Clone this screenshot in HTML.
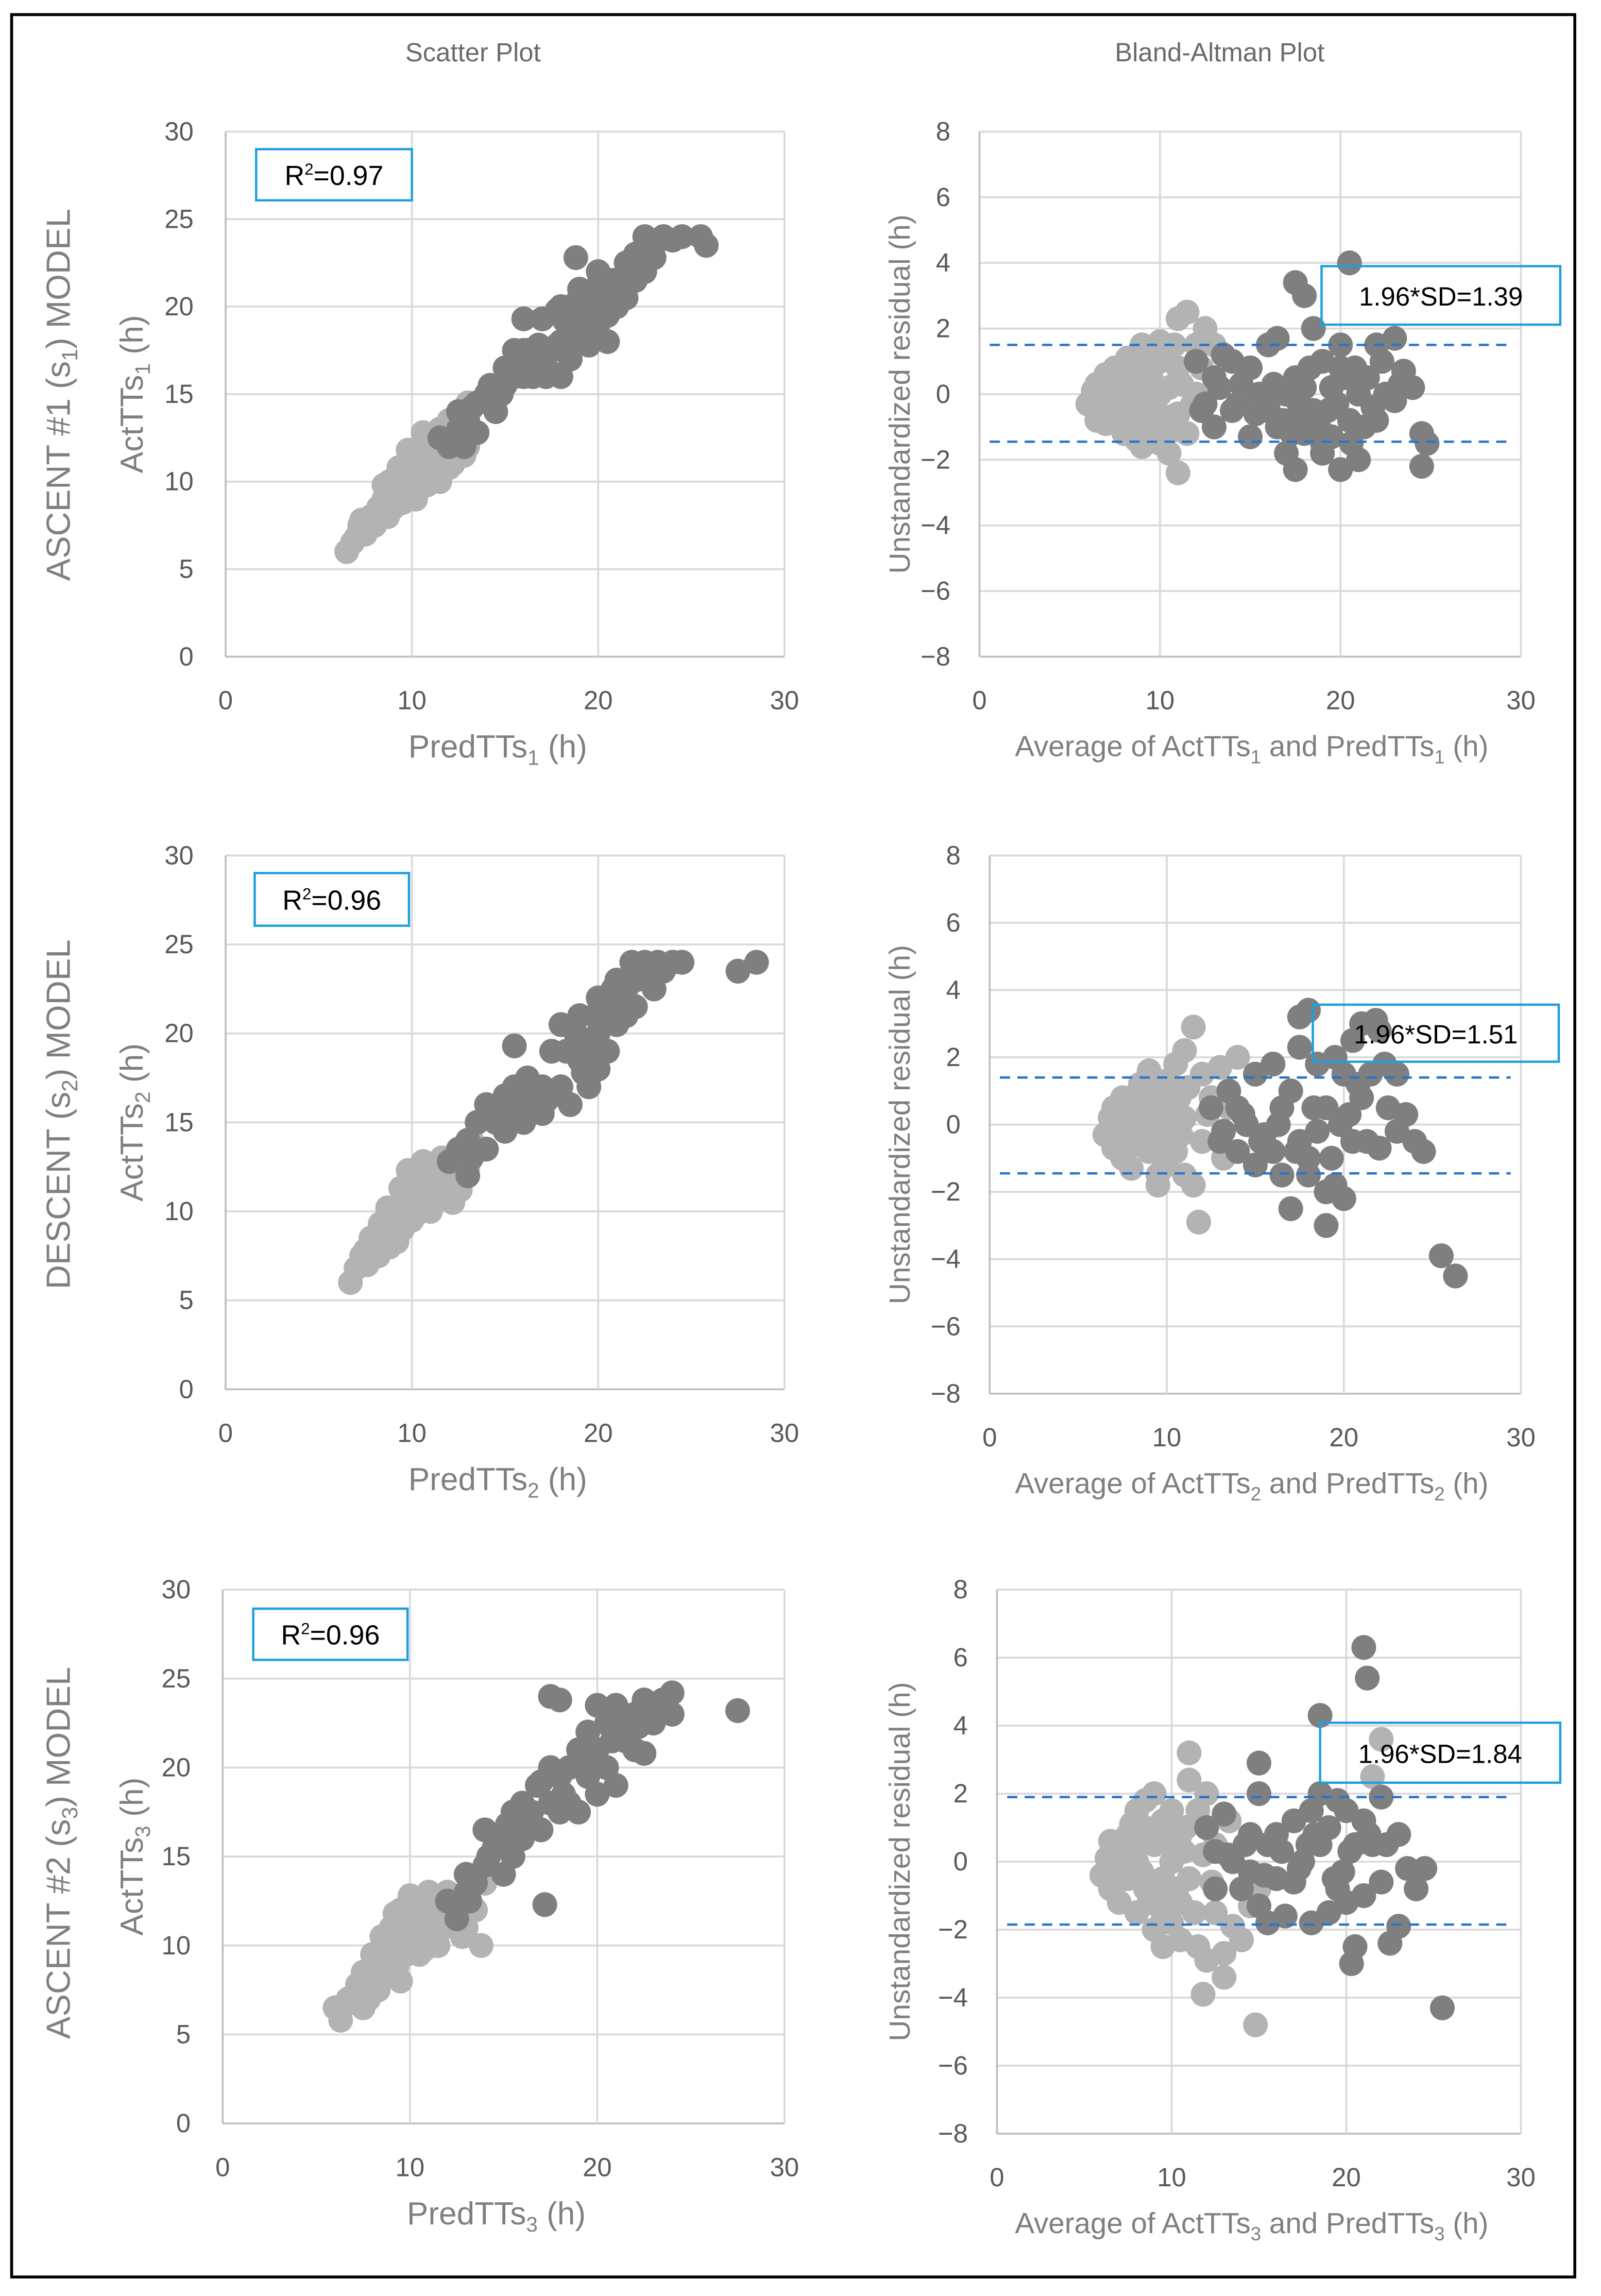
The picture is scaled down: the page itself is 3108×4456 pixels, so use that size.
<!DOCTYPE html>
<html><head><meta charset="utf-8"><style>
html,body{margin:0;padding:0;background:#fff;}
svg{display:block;}
text{font-family:"Liberation Sans",sans-serif;}
</style></head><body>
<svg id="fig" width="3108" height="4456" viewBox="0 0 1100 1570" preserveAspectRatio="none" xmlns="http://www.w3.org/2000/svg">
<rect x="8" y="10" width="1074" height="1547" fill="#fff" stroke="#000" stroke-width="2"/>
<text x="325" y="42" font-size="18" fill="#6b6b6b" text-anchor="middle">Scatter Plot</text>
<text x="838" y="42" font-size="18" fill="#6b6b6b" text-anchor="middle">Bland-Altman Plot</text>
<g id="plots"></g>
</svg>
<script>
// ---------- data ----------
var s1LightX=[6.5,6.8,7.2,7.5,7.8,8,8.2,8.5,8.7,9,9,9.2,9.5,9.5,9.8,10,10,10.2,10.5,10.5,10.8,11,11,11.2,11.5,11.5,11.8,12,12,12.2,12.5,12.5,13,13,8.5,9.5,10.5,11.5,12.8,7,7.3,8.8,9.3,10.3,10.8,11.3,11.8,12.3,9.8,10.6,11.2,12];
var s1LightY=[6,6.5,7.5,7,8,7.5,8.5,9,8,9.5,8.5,10,9,10.5,9.5,10,11,9,10.5,12,11,10,12.5,11,11.5,13,12,12,13.5,11,13,14,14.5,12,9.8,8.8,9.8,10,11.5,6.8,7.8,10,10.8,11.5,9.8,12,13,12.5,11.8,12.8,10.5,10.8];
var s1DarkX=[11.5,12,12.5,12.5,13,13.5,13.5,14,14.5,15,15,15.5,15.5,16,16,16.5,16.5,17,17,17.5,17.5,18,18,18,18.5,18.5,19,19,19,19.5,19.5,20,20,20,20.5,20.5,21,21,21.5,22,22,22.5,23,23.5,24,25.5,25.8,18.8,16,17,21.5,22.5,12.8,13.2,14.2,14.8,15.2,16.2,16.8,17.2,17.8,18.2,18.8,19.2,19.8,20.2,20.8,21.2,22.2,23,24.5,15.8,17.8];
var s1DarkY=[12.5,12,13,14,13.5,14.5,12.8,15,14,15.5,16.5,16,17.5,16,19.3,17,16,17,16.5,17.5,16.2,18,16,20,18.5,17,19,21,18,20,17.8,20.5,19,22,19.5,18,21,20,22.5,21.5,23,24,23.5,24,23.8,24,23.5,22.8,17.5,19.3,20.5,22,12,14.2,15.5,15,16.5,17.5,17.8,16,17.8,19.2,20.2,18.8,21,20.5,21.5,20.5,22,22.8,24,16.8,19.8];

var s2LightX=[6.7,7,7.3,7.6,8,8.2,8.5,8.8,9,9,9.3,9.5,9.7,10,10,10.3,10.5,10.5,10.8,11,11,11.3,11.5,11.7,12,12,12.3,12.5,13,13.2,8.3,9.2,10.2,11.2,7.5,9.8,12.6,13.8,8.7,9.4,10.6,11.6,12.2,7.8,10.9,11.9];
var s2LightY=[6,6.8,7.5,7,8,7.5,8.8,8,9.5,8.5,10,9,10.5,9.5,11,10,12,10.5,11,10,12.5,11.5,12,11,13,12,11,13.5,12.5,14,9.3,8.3,9.8,10.5,7.8,12.3,11.2,13.5,10.2,11.3,12.8,13,10.5,8.5,11.8,12.2];
var s2DarkX=[12,12.5,13,13,13.5,14,14,14.5,15,15,15.5,15.5,16,16,16.5,16.5,17,17,17.5,18,18,18.5,18.5,19,19,19.5,19.5,20,20,20,20.5,20.5,21,21,21.5,22,22,22.5,23,23.5,24,24.5,27.5,28.5,15.5,17.5,19.5,21.5,16.8,18.3,13.2,14.8,15.8,16.2,17.2,18.8,19.2,20.2,20.8,21.2,22.8,23.2,19.8,21.8];
var s2DarkY=[12.8,13.5,12,14,15,13.5,16,15,14.5,16.5,15.5,17,16,15,17,16,17,15.5,19,17,20.5,19,16,18.5,21,19.5,17.5,20,22,18,21.5,19,23,20.5,22.5,23,21.5,24,22.5,23.5,24,24,23.5,24,19.3,16.5,17,21,16.8,19,13,15.8,16.2,17.5,16.2,20,17.8,19,22.5,22,23.5,24,21,24];

var s3LightX=[6,6.3,6.7,7,7.3,7.5,7.8,8,8,8.3,8.5,8.5,8.8,9,9,9.3,9.5,9.5,9.8,10,10,10.3,10.5,10.5,10.8,11,11,11.3,11.5,11.5,12,12,12.5,13,13,13.5,13.8,14,7.5,9.5,10.8,12.8,8.7,9.2,10.2,11.2,11.8,12.3,7.2,8.2,9.8,10.7];
var s3LightY=[6.5,5.8,7,6.8,7.5,8.5,7,8,9.5,7.5,9,10.5,8.5,9.5,11,8.8,10,12,9.5,11,12.8,10,11.5,9.5,12,10.5,13,11,12,10,11.5,13,12.5,11,12.8,12,10,13.5,6.5,8,9.8,10.5,10,11.8,11.8,12.5,11,12.2,7.8,8.8,10.5,11];
var s3DarkX=[12,12.5,13,13,13.5,14,14,14.5,15,15,15.5,15.5,16,16,16.5,17,17,17.5,17.5,18,18,18.5,18.5,19,19,19.5,19.5,20,20,20,20.5,20.5,21,21,21.5,22,22,22.5,23,23.5,24,24,27.5,17.2,17.5,18,21,22.5,13.2,14.2,15.2,16.2,16.8,18.2,19.2,19.8,20.8,21.2,22.2,23.2];
var s3DarkY=[12.5,11.5,13,14,13.5,16.5,14.5,15.5,14,16,15,17.5,16,18,17.5,19.2,16.5,18,20,17.5,19.5,20,18,21,17.5,19.5,22,18.5,21,23.5,20,22.5,23.5,19,21.5,23,21,23.8,22.5,23.8,24.2,23,23.2,12.3,24,23.8,22.3,20.8,12.5,15,16.8,16.5,19,18.5,20,20.5,21.5,22,22.3,23.5];

var b1LightX=[6,6.5,6.5,7,7,7.5,7.5,7.5,8,8,8,8.5,8.5,8.5,9,9,9,9,9.5,9.5,9.5,10,10,10,10.5,10.5,10.5,11,11,11,11.5,11.5,12,12,12.5,13,7,9,10,11,8,9.5,6.3,6.8,7.2,7.8,8.2,8.8,9.2,9.8,10.2,10.8,11.2,11.8,8.3,9.7,10.7,12.3,7.3,8.7];
var b1LightY=[-0.3,0.3,-0.8,0,-0.9,0.8,-0.4,0.3,0.5,-0.6,-1.2,1,0,-0.5,1.5,0.3,-1,-1.6,0.5,-0.4,-1.3,1,0,-1.5,0.2,-0.7,-1.8,2.3,0.8,-0.6,2.5,-1.2,1.5,0,2,1.5,0.6,-0.2,1.6,-2.4,0.2,-0.8,0.1,-0.3,0.5,-0.2,1.1,0.8,-0.5,1.2,-0.9,1.5,0.3,-0.3,-1,0.9,-1.1,0.8,-0.6,-1.4];
var b1DarkX=[12,12.5,13,13,13.5,14,14,14.5,15,15,15.5,16,16,16.5,16.5,17,17,17.5,17.5,17.5,18,18,18.5,18.5,19,19,19.5,19.5,20,20,20,20.5,20.5,21,21,21.5,22,22,22.5,23,23,23.5,24,24.5,24.5,24.8,17.5,17.7,20.6,18,12.3,13.3,14.3,15.3,16.3,16.8,17.3,18.3,18.8,19.3,19.8,20.3,20.8,21.3,21.8,22.3,23.3,16,19,21];
var b1DarkY=[1,-0.3,-1,0.5,1.2,-0.5,1,0.3,-1.3,0.8,0,1.5,-0.5,1.7,-1,0,-1.8,-2.3,0.5,3.4,-1.2,3,2,-0.5,-1.8,1,0.2,-1.3,-2.3,0.8,1.5,4,-0.8,-2,0.3,0.5,1.5,-0.8,0,1.7,-0.2,0.7,0.2,-1.2,-2.2,-1.5,-0.8,-0.3,-1.5,0.2,-0.5,0.2,-0.3,-0.6,0.3,-0.8,-1.2,0.8,-1,-0.5,-0.3,0.5,0.8,-1,-0.4,1,0.3,-0.3,-1.5,0];

var b2LightX=[6.5,7,7,7.5,7.5,8,8,8,8.5,8.5,9,9,9,9.5,9.5,9.5,10,10,10,10.5,10.5,11,11,11,11.5,11.5,12,12,12.5,13,13.5,14,8.5,9.5,10.5,11.8,7.5,6.8,7.2,7.8,8.2,8.8,9.2,9.8,10.2,10.8,11.2,8.3,9.7,10.7,12.3,13.2];
var b2LightY=[-0.3,0.5,-0.7,0.2,-1,0.8,-0.3,-1.3,1.2,0,1.6,0.3,-0.8,0.8,-0.4,-1.5,1.3,0,-1.2,0.5,-0.8,2.2,0.2,-1.5,2.9,-1.8,1.5,-0.5,0.8,1.7,0.5,2,-0.2,-1.8,1.8,-2.9,0.8,0.2,-0.4,0.5,-0.6,1,0,-1,0.6,-0.3,1.1,0.4,-0.6,0.8,0.3,-1];
var b2DarkX=[12.5,13,13.5,14,14,14.5,15,15,15.5,16,16,16.5,16.5,17,17,17.5,17.5,18,18,18.5,18.5,19,19,19.5,19.5,20,20,20.5,20.5,21,21,21.5,22,22,22.5,23,23,23.5,24,24.5,25.5,26.3,17.5,18,19,21.8,13.2,14.3,15.3,16.3,17.3,18.3,19.3,20.3,21.3,22.3,20.8,19.8];
var b2DarkY=[0.5,-0.5,1,-0.8,0.5,0,-1.2,1.5,-0.3,1.8,-0.8,0.5,-1.5,1,-2.5,2.3,-0.5,3.4,-1.5,1.8,-0.2,-3,0.5,2,-1.8,-2.2,1.5,-0.5,2.5,3,0.8,1.5,2.8,-0.7,0.5,1.5,-0.2,0.3,-0.5,-0.8,-3.9,-4.5,3.2,-1,-2,3.1,-0.2,0.3,-0.5,0,-0.8,0.5,-1,0.3,-0.5,1.8,1.2,0];

var b3LightX=[6,6.5,6.5,7,7,7.5,7.5,8,8,8,8.5,8.5,9,9,9,9.5,9.5,9.5,10,10,10,10.5,10.5,11,11,11,11.5,11.5,12,12,12.5,12.5,13,13.5,14,14.5,15,11.8,13,14.8,9.5,10.5,8.5,22,21.5,6.3,6.8,7.3,7.8,8.3,8.8,9.3,9.8,10.3,10.8,11.3,11.8,12.3,13.3,7.7,8.7,9.7,10.7];
var b3LightY=[-0.4,0.6,-0.8,0.3,-1.2,0.8,-0.5,1.5,0,-1.5,1.8,-0.8,2,0.5,-2,1.2,-0.5,-2.5,1.5,0,-1.8,0.8,-1.2,3.2,2.4,-0.5,1.5,-2.5,2,-2.9,0.5,-1.5,-2.7,-1.9,-2.3,-1.3,-0.8,-3.9,-3.4,-4.8,-1.5,-2.3,1,3.6,2.5,0.1,-0.2,-0.5,0.4,-0.3,0.9,-1,0.6,-0.8,1,-1.5,0.2,-0.6,1.2,1.1,-1.2,-1.2,0.3];
var b3DarkX=[12,12.5,12.5,13,13.5,14,14.5,14.5,15,15,15.5,15.5,16,16,16.5,17,17,17.5,18,18,18.5,18.5,19,19,19.5,19.5,20,20,20.5,20.5,21,21,21.5,22,22,22.5,23,23,23.5,24,24.5,25.5,21,21.2,18.5,20.3,15,13.2,14.2,15.3,16.3,17.3,18.2,19.3,20.2,21.3,22.3,17.8,19.8];
var b3DarkY=[1,0.3,-0.8,1.4,0,-0.8,0.8,-0.3,2,-1.3,0.5,-1.8,-0.5,0.8,-1.6,1.2,-0.6,0,1.5,-1.8,2,0.5,-1.5,1,1.8,-0.8,-1.2,1.5,-2.5,0.5,-1,1.2,0.5,1.9,-0.6,-2.4,0.8,-1.9,-0.2,-0.8,-0.2,-4.3,6.3,5.4,4.3,-3,2.9,0.2,0.5,-0.4,0.3,-0.2,0.8,-0.5,0.3,0.8,0.5,0.5,-0.3];

var scatterTicks=[0,5,10,15,20,25,30];
var xTicks=[0,10,20,30];
var baTicks=[8,6,4,2,0,-2,-4,-6,-8];
var r2Labels=["0.97","0.96","0.96"];
var sdLabels=["1.39","1.51","1.84"];
var sdUpper=[1.5,1.4,1.9];
var sdLower=[-1.45,-1.45,-1.85];
var rowTitles=[["ASCENT #1 (s","1",") MODEL"],["DESCENT (s","2",") MODEL"],["ASCENT #2 (s","3",") MODEL"]];
var subs=["1","2","3"];

// ---------- layout ----------
var NS="http://www.w3.org/2000/svg";
var root=document.getElementById('plots');
function el(tag,attrs,parent){var e=document.createElementNS(NS,tag);for(var k in attrs)e.setAttribute(k,attrs[k]);(parent||root).appendChild(e);return e;}

var rows=[
 {sc:{x0:155,x1:539,yt:90,yb:449},ba:{x0:673,x1:1045,yt:90,yb:449},r2:[176,102,107,35],sd:[908,182,164,40],rt:270},
 {sc:{x0:155,x1:539,yt:585,yb:950},ba:{x0:680,x1:1045,yt:585,yb:953},r2:[175,597,106,36],sd:[902,687,169,39],rt:762},
 {sc:{x0:153,x1:539,yt:1087,yb:1452},ba:{x0:685,x1:1045,yt:1087,yb:1459},r2:[174,1100,106,35],sd:[907,1178,165,41],rt:1267}
];
var scData=[[s1LightX,s1LightY,s1DarkX,s1DarkY],[s2LightX,s2LightY,s2DarkX,s2DarkY],[s3LightX,s3LightY,s3DarkX,s3DarkY]];
var baData=[[b1LightX,b1LightY,b1DarkX,b1DarkY],[b2LightX,b2LightY,b2DarkX,b2DarkY],[b3LightX,b3LightY,b3DarkX,b3DarkY]];
var R=8.5;

function subText(g,x,y,parts,attrs){
  var t=el('text',attrs,g);t.setAttribute('x',x);t.setAttribute('y',y);
  for(var i=0;i<parts.length;i++){var s=el('tspan',{},t);s.textContent=parts[i];
    if(i%2==1){s.setAttribute('font-size','0.65em');s.setAttribute('dy','5');}
    else if(i>0){s.setAttribute('dy','-5');}}
  return t;
}

rows.forEach(function(r,ri){
  var p=r.sc;
  var sx=function(v){return p.x0+(p.x1-p.x0)*v/30;};
  var sy=function(v){return p.yb-(p.yb-p.yt)*v/30;};
  var g=el('g',{});
  
  
  scatterTicks.forEach(function(t){
    var l=el('line',{x1:p.x0,x2:p.x1,y1:sy(t),y2:sy(t),stroke:t==0?'#bfbfbf':'#d9d9d9','stroke-width':1.3},g);
    
    var tx=el('text',{x:p.x0-22,y:sy(t)+6,'font-size':18,fill:'#595959','text-anchor':'end'},g);tx.textContent=t;
    
  });
  xTicks.forEach(function(t){
    var l=el('line',{x1:sx(t),x2:sx(t),y1:p.yt,y2:p.yb,stroke:t==0?'#bfbfbf':'#d9d9d9','stroke-width':1.3},g);
    
    var tx=el('text',{x:sx(t),y:p.yb+36,'font-size':18,fill:'#595959','text-anchor':'middle'},g);tx.textContent=t;
    
  });
  var d=scData[ri];
  [[d[0],d[1],'#b3b3b3'],[d[2],d[3],'#7f7f7f']].forEach(function(s,si){
    for(var i=0;i<s[0].length;i++){var c=el('circle',{cx:sx(s[0][i]),cy:sy(s[1][i]),r:R,fill:s[2]},g);
      
      }
  });
  var rb=el('rect',{x:r.r2[0],y:r.r2[1],width:r.r2[2],height:r.r2[3],fill:'none',stroke:'#1ea0dc','stroke-width':1.6},g);
  
  var rt=el('text',{x:r.r2[0]+r.r2[2]/2,y:r.r2[1]+r.r2[3]/2+7,'font-size':19,fill:'#000','text-anchor':'middle'},g);
  rt.innerHTML='R<tspan font-size="11" dy="-7">2</tspan><tspan dy="7">=</tspan>'+r2Labels[ri];
  
  var xt=subText(g,(p.x0+p.x1)/2-5,p.yb+69,['PredTTs',subs[ri],' (h)'],{'font-size':22,fill:'#7f7f7f','text-anchor':'middle'});
  
  var yt=subText(g,0,0,['ActTTs',subs[ri],' (h)'],{'font-size':22,fill:'#7f7f7f','text-anchor':'middle',transform:'translate(98,'+((p.yt+p.yb)/2)+') rotate(-90)'});
  
  var rw=subText(g,0,0,rowTitles[ri],{'font-size':23,fill:'#7f7f7f','text-anchor':'middle',transform:'translate(48,'+r.rt+') rotate(-90)'});
  

  var q=r.ba;
  var bx=function(v){return q.x0+(q.x1-q.x0)*v/30;};
  var by=function(v){return q.yb-(q.yb-q.yt)*(v+8)/16;};
  var h=el('g',{});
  
  
  baTicks.forEach(function(t){
    var l=el('line',{x1:q.x0,x2:q.x1,y1:by(t),y2:by(t),stroke:t==-8?'#bfbfbf':'#d9d9d9','stroke-width':1.3},h);
    
    var tx=el('text',{x:q.x0-20,y:by(t)+6,'font-size':18,fill:'#595959','text-anchor':'end'},h);tx.textContent=(t<0?'\u2212'+(-t):t);
    
  });
  xTicks.forEach(function(t){
    var l=el('line',{x1:bx(t),x2:bx(t),y1:q.yt,y2:q.yb,stroke:t==0?'#bfbfbf':'#d9d9d9','stroke-width':1.3},h);
    
    var tx=el('text',{x:bx(t),y:q.yb+36,'font-size':18,fill:'#595959','text-anchor':'middle'},h);tx.textContent=t;
    
  });
  var e=baData[ri];
  [[e[0],e[1],'#b3b3b3'],[e[2],e[3],'#7f7f7f']].forEach(function(s,si){
    for(var i=0;i<s[0].length;i++){var c=el('circle',{cx:bx(s[0][i]),cy:by(s[1][i]),r:R,fill:s[2]},h);
      
      }
  });
  [sdUpper[ri],sdLower[ri]].forEach(function(v,vi){
    var l=el('line',{x1:q.x0+7,x2:q.x1-7,y1:by(v),y2:by(v),stroke:'#2a74c9','stroke-width':1.6,'stroke-dasharray':'7,5'},h);
    
  });
  var sb=el('rect',{x:r.sd[0],y:r.sd[1],width:r.sd[2],height:r.sd[3],fill:'none',stroke:'#1ea0dc','stroke-width':1.6},h);
  
  var st=el('text',{x:r.sd[0]+r.sd[2]/2,y:r.sd[1]+r.sd[3]/2+7,'font-size':18,fill:'#000','text-anchor':'middle'},h);
  st.textContent='1.96*SD='+sdLabels[ri];
  
  var bxt=subText(h,860,q.yb+68,['Average of ActTTs',subs[ri],' and PredTTs',subs[ri],' (h)'],{'font-size':20,fill:'#7f7f7f','text-anchor':'middle'});
  
  var byt=el('text',{'font-size':20,fill:'#7f7f7f','text-anchor':'middle',transform:'translate(625,'+((q.yt+q.yb)/2)+') rotate(-90)'},h);
  byt.textContent='Unstandardized residual (h)';
  
});
</script>
</body></html>
